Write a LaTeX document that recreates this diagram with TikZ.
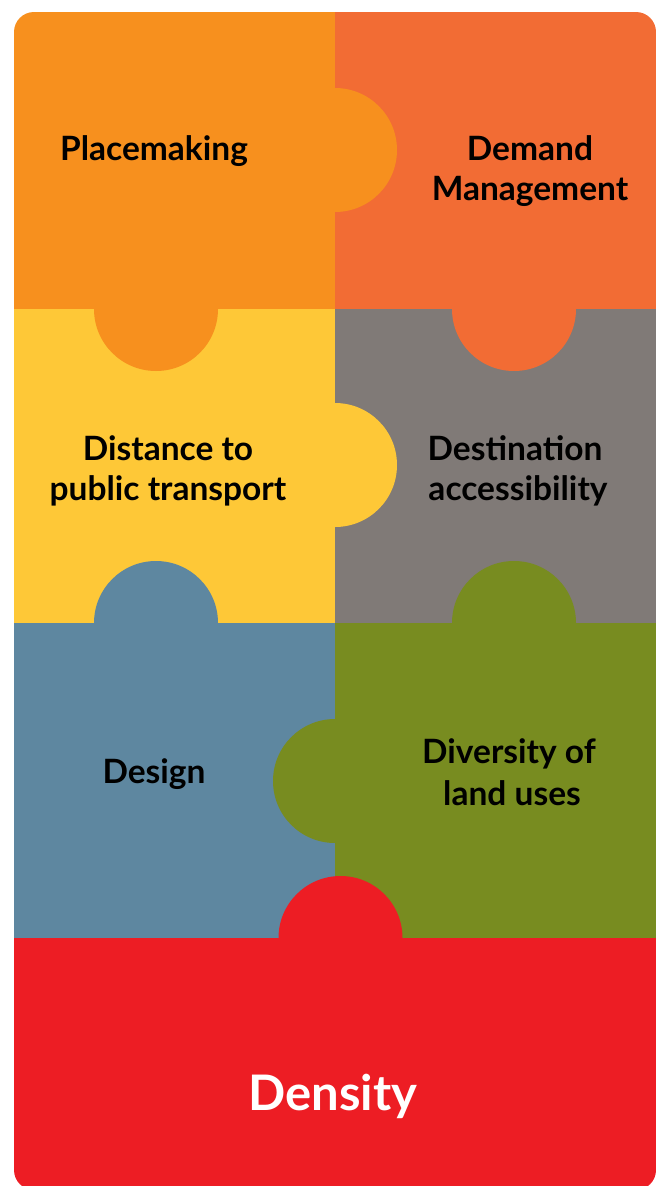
\documentclass[tikz,border=0pt]{standalone}
\usepackage{fontspec}
\setmainfont{Lato}
\usetikzlibrary{positioning}

\definecolor{placeorange}{RGB}{247,144,30}
\definecolor{demandorange}{RGB}{242,108,52}
\definecolor{distyellow}{RGB}{254,200,55}
\definecolor{destgrey}{RGB}{128,122,119}
\definecolor{designblue}{RGB}{94,135,160}
\definecolor{diversgreen}{RGB}{120,140,32}
\definecolor{densred}{RGB}{237,29,36}

\begin{document}
\begin{tikzpicture}[x=1pt,y=-1pt,
  piecetext/.style={font=\fontsize{33.5}{40}\selectfont\bfseries,text=black,inner sep=0pt,anchor=base},
  bigtext/.style={font=\fontsize{49}{55}\selectfont\bfseries,text=white,inner sep=0pt,anchor=base}]
  \useasboundingbox (0,0) rectangle (657,1186);
  \coordinate (TL) at (14,12);
  \coordinate (BR) at (656,1190);
  \begin{scope}
    \clip[rounded corners=20] (TL) rectangle (BR);
    % the cells
    \fill[placeorange] (14,12) rectangle (335,309);
    \fill[demandorange] (335,12) rectangle (656,309);
    \fill[distyellow] (14,309) rectangle (335,623);
    \fill[destgrey] (335,309) rectangle (656,623);
    \fill[designblue] (14,623) rectangle (335,938);
    \fill[diversgreen] (335,623) rectangle (656,938);
    \fill[densred] (14,938) rectangle (656,1190);
    % the tabs
    \fill[placeorange] (335,150) circle (62);
    \fill[placeorange] (156,309) circle (62);
    \fill[demandorange] (514,309) circle (62);
    \fill[distyellow] (335,465) circle (62);
    \fill[designblue] (156,623) circle (62);
    \fill[diversgreen] (514,623) circle (62);
    \fill[diversgreen] (335,781) circle (62);
    \fill[densred] (340.5,938) circle (62);
  \end{scope}

  \node[piecetext] (place) at (154,160) {Placemaking};
  \node[piecetext] (demand) at (530,160) {Demand};
  \node[piecetext] (manage) at (530,200) {Management};
  \node[piecetext] (dist) at (168,460) {Distance to};
  \node[piecetext] (public) at (168,500) {public transport};
  \node[piecetext] (dest) at (515,460) {Destination};
  \node[piecetext] (access) at (518,500) {accessibility};
  \node[piecetext] (design) at (154,783) {Design};
  \node[piecetext] (divers) at (509,763) {Diversity of};
  \node[piecetext] (land) at (512,805) {land uses};
  \node[bigtext] (density) at (333,1110) {Density};
\end{tikzpicture}
\end{document}
